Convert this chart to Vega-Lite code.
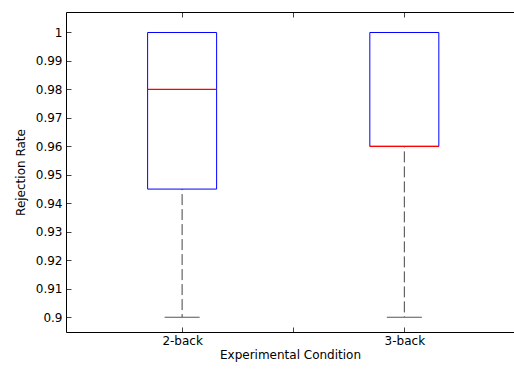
{
  "$schema": "https://vega.github.io/schema/vega-lite/v6.json",
  "width": 448,
  "height": 320,
  "autosize": {"type": "none"},
  "padding": {"left": 66, "top": 12, "right": 0, "bottom": 38},
  "background": "white",
  "config": {
    "view": {"stroke": null},
    "font": "DejaVu Sans",
    "axis": {
      "labelFont": "DejaVu Sans",
      "titleFont": "DejaVu Sans",
      "labelFontSize": 12,
      "titleFontSize": 12,
      "titleFontWeight": "normal",
      "labelColor": "#000",
      "titleColor": "#000",
      "domainColor": "#000",
      "domainWidth": 1,
      "tickColor": "#444",
      "tickSize": -5,
      "labelOverlap": false,
      "grid": false
    }
  },
  "data": {
    "values": [
      {"condition": "2-back", "pos": 1, "lower": 0.9, "q1": 0.945, "median": 0.98, "q3": 1.0, "upper": 1.0},
      {"condition": "3-back", "pos": 2, "lower": 0.9, "q1": 0.96, "median": 0.96, "q3": 1.0, "upper": 1.0}
    ]
  },
  "layer": [
    {
      "mark": {"type": "rule", "strokeDash": [11, 4], "strokeDashOffset": 10, "color": "#444", "strokeWidth": 1, "opacity": 1},
      "encoding": {
        "x": {
          "field": "pos", "type": "quantitative",
          "scale": {"domain": [0.5, 2.471], "nice": false, "zero": false},
          "axis": {
            "orient": "bottom",
            "values": [1, 1.5, 2],
            "labelExpr": "datum.value == 1 ? '2-back' : datum.value == 2 ? '3-back' : ''",
            "title": "Experimental Condition",
            "labelPadding": 8,
            "titlePadding": 3
          }
        },
        "y": {
          "field": "q1", "type": "quantitative",
          "scale": {"domain": [0.8948, 1.0072], "nice": false, "zero": false},
          "axis": {
            "values": [0.9, 0.91, 0.92, 0.93, 0.94, 0.95, 0.96, 0.97, 0.98, 0.99, 1.0],
            "format": ".2~f",
            "title": "Rejection Rate",
            "labelPadding": 9,
            "titlePadding": 8
          }
        },
        "y2": {"field": "lower"}
      }
    },
    {
      "mark": {"type": "tick", "orient": "horizontal", "size": 35, "thickness": 1, "color": "#555", "opacity": 1},
      "encoding": {
        "x": {
          "field": "pos", "type": "quantitative",
          "axis": {"orient": "top", "values": [1, 1.5, 2], "labels": false, "title": null}
        },
        "y": {
          "field": "lower", "type": "quantitative",
          "axis": {
            "values": [0.9, 0.91, 0.92, 0.93, 0.94, 0.95, 0.96, 0.97, 0.98, 0.99, 1.0],
            "format": ".2~f",
            "title": "Rejection Rate",
            "labelPadding": 9,
            "titlePadding": 8
          }
        }
      }
    },
    {
      "mark": {"type": "bar", "size": 69, "fill": "white", "fillOpacity": 0, "stroke": "#0000ff", "strokeWidth": 1, "strokeOpacity": 1},
      "encoding": {
        "x": {"field": "pos", "type": "quantitative", "axis": null},
        "y": {
          "field": "q1", "type": "quantitative",
          "axis": {
            "values": [0.9, 0.91, 0.92, 0.93, 0.94, 0.95, 0.96, 0.97, 0.98, 0.99, 1.0],
            "format": ".2~f",
            "title": "Rejection Rate",
            "labelPadding": 9,
            "titlePadding": 8
          }
        },
        "y2": {"field": "q3"}
      }
    },
    {
      "mark": {"type": "tick", "orient": "horizontal", "size": 69, "thickness": 1.2, "color": "#ff0000", "opacity": 1},
      "encoding": {
        "x": {"field": "pos", "type": "quantitative", "axis": null},
        "y": {
          "field": "median", "type": "quantitative",
          "axis": {
            "values": [0.9, 0.91, 0.92, 0.93, 0.94, 0.95, 0.96, 0.97, 0.98, 0.99, 1.0],
            "format": ".2~f",
            "title": "Rejection Rate",
            "labelPadding": 9,
            "titlePadding": 8
          }
        }
      }
    }
  ],
  "resolve": {"axis": {"x": "independent"}}
}
